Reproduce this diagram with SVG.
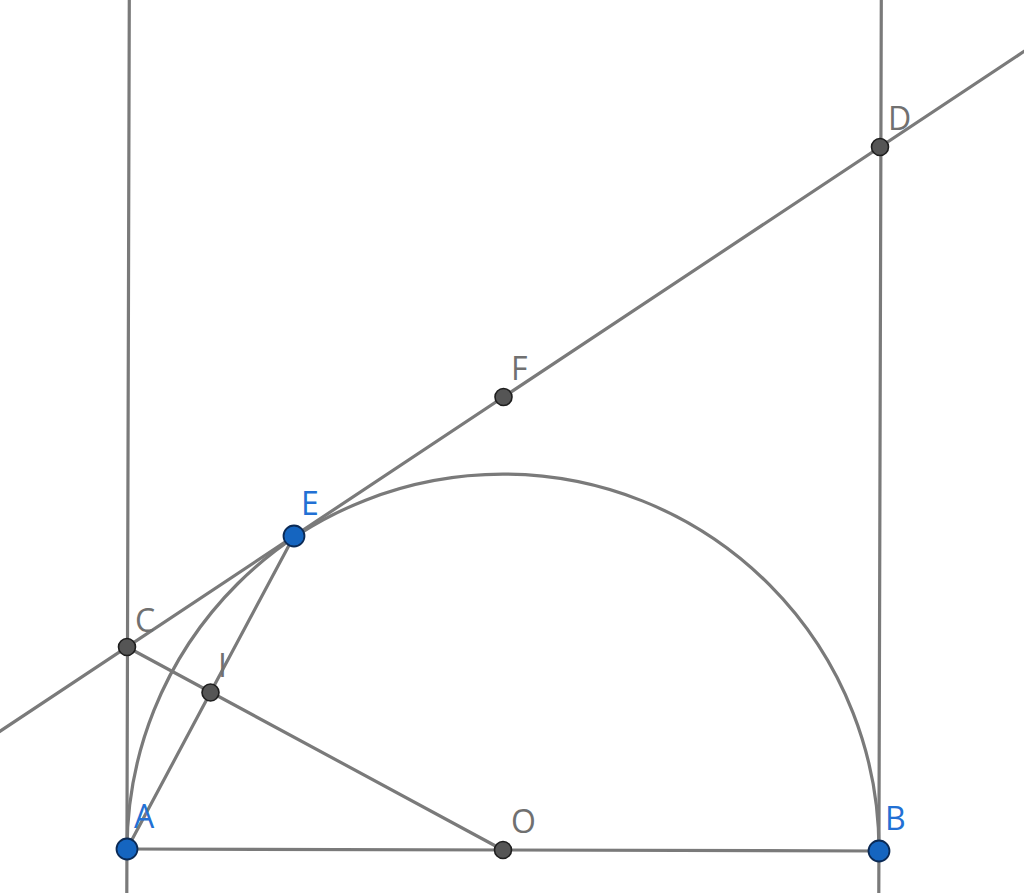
<svg xmlns="http://www.w3.org/2000/svg" width="1024" height="893" viewBox="0 0 1024 893">
<style>
.ln{stroke:#7a7a7a;stroke-width:3.2;fill:none;stroke-linecap:round}
.pt{fill:#555;stroke:#1e1e1e;stroke-width:1.6}
.bp{fill:#1565c0;stroke:#0b2a55;stroke-width:1.8}
.lg{font-family:"Open Sans","Liberation Sans",Arial,sans-serif;font-size:32px;fill:#707070}
.lb{font-family:"Open Sans","Liberation Sans",Arial,sans-serif;font-size:32px;fill:#2270d4}
</style>
<rect width="1024" height="893" fill="#fff"/>
<g id="connectors">
<line class="ln" x1="129.3" y1="-2" x2="126.8" y2="895"/>
<line class="ln" x1="881.3" y1="-2" x2="878.8" y2="895"/>
<line class="ln" x1="127" y1="849" x2="879" y2="851"/>
<line class="ln" x1="-2" y1="732.6" x2="1026" y2="50.1"/>
<path class="ln" d="M127 849 A376 376 0 0 1 879 851"/>
<line class="ln" x1="127" y1="849" x2="294" y2="536"/>
<line class="ln" x1="127" y1="647" x2="503" y2="850"/>
</g>
<g id="node-C"><circle class="pt" cx="127" cy="647" r="8.5"/><text class="lg" x="135" y="632">C</text></g>
<g id="node-I"><circle class="pt" cx="210.5" cy="692.5" r="8.5"/><text class="lg" x="218" y="677">I</text></g>
<g id="node-F"><circle class="pt" cx="503.5" cy="397" r="8.5"/><text class="lg" x="511" y="380">F</text></g>
<g id="node-D"><circle class="pt" cx="880" cy="147" r="8.5"/><text class="lg" x="888" y="130">D</text></g>
<g id="node-O"><circle class="pt" cx="503" cy="850" r="8.5"/><text class="lg" x="511" y="833">O</text></g>
<g id="node-E"><circle class="bp" cx="294" cy="536" r="10.5"/><text class="lb" x="301" y="515">E</text></g>
<g id="node-A"><circle class="bp" cx="127" cy="849" r="10.5"/><text class="lb" x="134" y="828">A</text></g>
<g id="node-B"><circle class="bp" cx="879" cy="851" r="10.5"/><text class="lb" x="885" y="830">B</text></g>
</svg>
